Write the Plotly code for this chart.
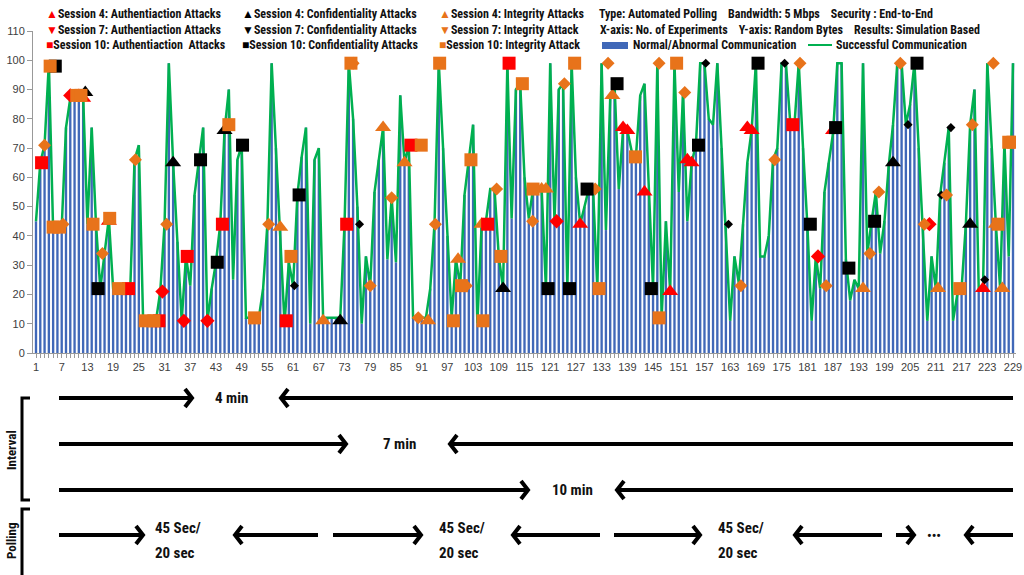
import plotly.graph_objects as go

# --- data --------------------------------------------------------------------
experiments = list(range(1, 230))
comm_bytes = [
    45, 65, 71, 99, 42, 42, 43, 77, 87, 88, 88, 88, 44, 77, 44, 22, 34, 46, 22, 21,
    21, 22, 22, 66, 71, 11, 11, 11, 11, 21, 44, 99, 65, 38, 11, 33, 23, 54, 66, 77,
    11, 22, 31, 44, 76, 90, 25, 66, 71, 12, 12, 12, 12, 22, 44, 99, 70, 44, 10, 31,
    23, 54, 67, 77, 10, 66, 70, 12, 12, 12, 12, 12, 44, 99, 80, 50, 10, 33, 23, 55,
    66, 77, 32, 53, 31, 88, 65, 71, 12, 12, 12, 12, 22, 44, 99, 70, 40, 12, 32, 23,
    54, 66, 78, 10, 44, 45, 56, 56, 33, 22, 99, 46, 90, 92, 60, 46, 56, 56, 56, 22,
    99, 45, 90, 92, 22, 99, 60, 44, 50, 56, 56, 22, 99, 42, 87, 92, 56, 76, 76, 69,
    67, 88, 92, 55, 22, 99, 12, 45, 21, 99, 55, 89, 45, 65, 71, 99, 99, 80, 78, 99,
    70, 44, 11, 33, 24, 44, 65, 76, 99, 33, 33, 40, 66, 70, 99, 99, 79, 78, 99, 70,
    44, 11, 33, 22, 55, 65, 75, 99, 99, 32, 18, 25, 22, 99, 34, 45, 55, 34, 45, 64,
    78, 99, 99, 78, 85, 99, 70, 45, 11, 33, 22, 54, 65, 77, 11, 20, 22, 44, 78, 90,
    22, 22, 99, 70, 44, 22, 72, 33, 99,
]

s4_auth_x = [11, 12, 18, 128, 138, 139, 143, 149, 153, 154, 167, 168, 187, 222]
s4_auth_y = [88, 87, 45, 44, 77, 76, 55, 21, 66, 65, 77, 76, 76, 22]
s4_conf_x = [12.5, 33, 45, 72, 110, 201, 219]
s4_conf_y = [89, 65, 76, 11, 22, 65, 44]
s4_int_x = [58, 68, 82, 87, 92.5, 99.5, 105, 119, 120, 135.5, 194, 211.5, 225, 226.5]
s4_int_y = [43, 11, 77, 65, 11, 32, 44, 56, 56, 88, 22, 22, 44, 22]

s7_auth_x = [9, 30.5, 35.5, 41, 122.5, 183.5, 209.5]
s7_auth_y = [88, 21, 11, 11, 45, 33, 44]
s7_conf_x = [61.3, 76.5, 157.3, 162.6, 175.7, 204.5, 212.3, 214.5, 222.4]
s7_conf_y = [23, 44, 99, 44, 99, 78, 54, 77, 25]
s7_int_x = [3, 7.3, 16.5, 24.2, 31.5, 55.3, 75, 79, 84, 90.2, 94.2, 101.4, 108.5, 116.9,
            124.3, 131.5, 134.5, 146.4, 152.4, 165.5, 173.4, 179.3, 185.4, 195.6, 197.7,
            202.7, 208.3, 213.5, 219.5, 224.4]
s7_int_y = [71, 44, 34, 66, 44, 44, 99, 23, 53, 12, 44, 23, 56, 45,
            92, 56, 99, 99, 89, 23, 66, 99, 23, 34, 55,
            99, 44, 54, 78, 99]

s10_auth_x = [2.3, 22.6, 29.7, 36.3, 44.5, 59.4, 73.5, 88.5, 106.4, 111.4, 177.6]
s10_auth_y = [65, 22, 11, 33, 44, 11, 44, 71, 44, 99, 78]
s10_conf_x = [5.5, 15.5, 39.4, 43.3, 49.2, 62.4, 120.5, 125.5, 129.6, 136.6, 144.6, 155.6,
              169.5, 181.7, 187.6, 190.7, 196.7, 206.6]
s10_conf_y = [98, 22, 66, 31, 71, 54, 22, 22, 56, 92, 22, 71, 99, 44, 77, 29, 45, 99]
s10_int_x = [4.3, 5, 6.5, 10.5, 11.5, 14.3, 18.2, 20.3, 26.5, 28.5, 46, 52, 60.5, 74.5, 90.9,
             95.2, 98.4, 100.3, 102.5, 105.3, 109.5, 114.5, 117, 126.7, 132.4, 140.9, 146.4,
             150.5, 216.6, 225.5, 228, 229]
s10_int_y = [98, 43, 43, 88, 88, 44, 46, 22, 11, 11, 78, 12, 33, 99, 71,
             99, 11, 23, 66, 11, 33, 92, 56, 99, 22, 67, 12,
             99, 22, 44, 72, 72]

x_tick_vals = list(range(1, 230, 6))
y_tick_vals = list(range(0, 111, 10))

RED, BLACK, ORANGE = "#FF0000", "#000000", "#E8731A"
BLUE, GREEN = "#4068B8", "#00B050"
FONT = "Liberation Sans Narrow, Roboto Condensed, Arial Narrow, Liberation Sans, sans-serif"

fig = go.Figure()
fig.add_trace(go.Bar(x=experiments, y=comm_bytes, marker=dict(color=BLUE, line_width=0)))
fig.add_trace(go.Scatter(x=experiments, y=comm_bytes, mode="lines",
                         line=dict(color=GREEN, width=2.5)))

marker_sets = [
    (s4_auth_x, s4_auth_y, "triangle-up", RED, 14),
    (s4_conf_x, s4_conf_y, "triangle-up", BLACK, 14),
    (s4_int_x, s4_int_y, "triangle-up", ORANGE, 14),
    (s7_auth_x, s7_auth_y, "diamond", RED, 11),
    (s7_conf_x, s7_conf_y, "diamond", BLACK, 7),
    (s7_int_x, s7_int_y, "diamond", ORANGE, 10),
    (s10_auth_x, s10_auth_y, "square", RED, 13),
    (s10_conf_x, s10_conf_y, "square", BLACK, 13),
    (s10_int_x, s10_int_y, "square", ORANGE, 13),
]
for mx, my, sym, col, size in marker_sets:
    fig.add_trace(go.Scatter(x=mx, y=my, mode="markers",
                             marker=dict(symbol=sym, color=col, size=size, line_width=0)))

# pixel -> paper helpers (plot area: left 33, top 31, 983 x 322)
L, T, W, H = 33, 31, 983, 322
def px(x):
    return (x - L) / W
def py(y):
    return (T + H - y) / H

ann = []
shapes = []

def text(x, y, s, size=12, anchor="left", bold=True, angle=0):
    ann.append(dict(x=px(x), y=py(y), xref="paper", yref="paper", text=f"<b>{s}</b>" if bold else s,
                    showarrow=False, xanchor=anchor, yanchor="middle", textangle=angle,
                    font=dict(family=FONT, size=size, color="#111111")))

# legend block
legend_rows = [
    [("▲", RED, "Session 4: Authentiaction Attacks"), ("▲", BLACK, "Session 4: Confidentiality Attacks"),
     ("▲", ORANGE, "Session 4: Integrity Attacks")],
    [("▼", RED, "Session 7: Authentiaction Attacks"), ("▼", BLACK, "Session 7: Confidentiality Attacks"),
     ("▼", ORANGE, "Session 7: Integrity Attack")],
    [("■", RED, "Session 10: Authentiaction\u00a0 Attacks"), ("■", BLACK, "Session 10: Confidentiality Attacks"),
     ("■", ORANGE, "Session 10: Integrity Attack")],
]
cols = [44, 240, 437]
rows = [14, 30, 45]
for r, row in zip(rows, legend_rows):
    for c, (sym, col, lab) in zip(cols, row):
        ann.append(dict(x=px(c), y=py(r), xref="paper", yref="paper", showarrow=False,
                        xanchor="left", yanchor="middle",
                        text=f"<span style='color:{col}'>{sym}</span><b>{lab}</b>",
                        font=dict(family=FONT, size=12, color="#111111")))

sp = "\u00a0" * 4
text(597, 14, f"Type: Automated Polling{sp}Bandwidth: 5 Mbps{sp}Security : End-to-End")
text(598, 30, f"X-axis: No. of Experiments{sp}Y-axis: Random Bytes{sp}Results: Simulation Based")
shapes.append(dict(type="rect", xref="paper", yref="paper", x0=px(602), x1=px(628),
                   y0=py(49), y1=py(42), fillcolor=BLUE, line_width=0))
text(631, 45, "Normal/Abnormal Communication")
shapes.append(dict(type="line", xref="paper", yref="paper", x0=px(808), x1=px(832),
                   y0=py(45), y1=py(45), line=dict(color=GREEN, width=2)))
text(834, 45, "Successful Communication")

# interval / polling arrows
def right_arrow(a, b, y):
    shapes.append(dict(type="line", xref="paper", yref="paper", x0=px(a), x1=px(b),
                       y0=py(y), y1=py(y), line=dict(color="black", width=4)))
    shapes.append(dict(type="path", xref="paper", yref="paper",
                       path=f"M {px(b-7)},{py(y-9)} L {px(b)},{py(y)} L {px(b-7)},{py(y+9)}",
                       line=dict(color="black", width=4)))

def left_arrow(a, b, y):
    shapes.append(dict(type="line", xref="paper", yref="paper", x0=px(a), x1=px(b),
                       y0=py(y), y1=py(y), line=dict(color="black", width=4)))
    shapes.append(dict(type="path", xref="paper", yref="paper",
                       path=f"M {px(a+7)},{py(y-9)} L {px(a)},{py(y)} L {px(a+7)},{py(y+9)}",
                       line=dict(color="black", width=4)))

right_arrow(59, 192, 398); text(231, 398, "4 min", 15, "center"); left_arrow(281, 1013, 398)
right_arrow(59, 346, 444); text(399, 444, "7 min", 15, "center"); left_arrow(450, 1013, 444)
right_arrow(59, 528, 490); text(572, 490, "10 min", 15, "center"); left_arrow(617, 1013, 490)

for a, b, tx, c, d in [(59, 143, 153, 235, 318), (333, 421, 437, 513, 600), (614, 700, 716, 795, 882)]:
    right_arrow(a, b, 535)
    text(tx, 528, "45 Sec/", 15)
    text(tx, 553, "20 sec", 15)
    left_arrow(c, d, 535)
right_arrow(896, 914, 535)
text(934, 535, "•••", 13, "center")
left_arrow(966, 1013, 535)

shapes.append(dict(type="path", xref="paper", yref="paper",
                   path=f"M {px(30)},{py(398)} L {px(22)},{py(398)} L {px(22)},{py(500)} L {px(30)},{py(500)}",
                   line=dict(color="black", width=3)))
shapes.append(dict(type="path", xref="paper", yref="paper",
                   path=f"M {px(30)},{py(509)} L {px(22)},{py(509)} L {px(22)},{py(575)}",
                   line=dict(color="black", width=3)))
text(11, 450, "Interval", 13, "center", angle=-90)
text(11, 541, "Polling", 13, "center", angle=-90)

fig.update_layout(
    width=1024, height=575,
    margin=dict(l=L, r=1024 - L - W, t=T, b=575 - T - H),
    plot_bgcolor="white", paper_bgcolor="white",
    showlegend=False, bargap=0.45,
    annotations=ann, shapes=shapes,
    xaxis=dict(range=[0.3, 229.7], tickmode="array", tickvals=x_tick_vals,
               ticks="outside", ticklen=4, tickcolor="#999999", automargin=False,
               showline=True, linecolor="#999999", showgrid=False, zeroline=False,
               tickfont=dict(family="Liberation Sans", size=11, color="#404040"),
               minor=dict(dtick=1, ticks="outside", ticklen=4, tickcolor="#999999")),
    yaxis=dict(range=[0, 110], tickmode="array", tickvals=y_tick_vals,
               ticks="outside", ticklen=5, tickcolor="#999999", automargin=False,
               showline=True, linecolor="#999999", showgrid=False, zeroline=False,
               tickfont=dict(family="Liberation Sans", size=11, color="#404040")),
)

# the page body has a default 8px margin; drop it so the figure sits at the window corner
fig.write_html("out.html", config={"displayModeBar": False},
               post_script="document.body.style.margin='0';document.body.style.overflow='hidden';")
